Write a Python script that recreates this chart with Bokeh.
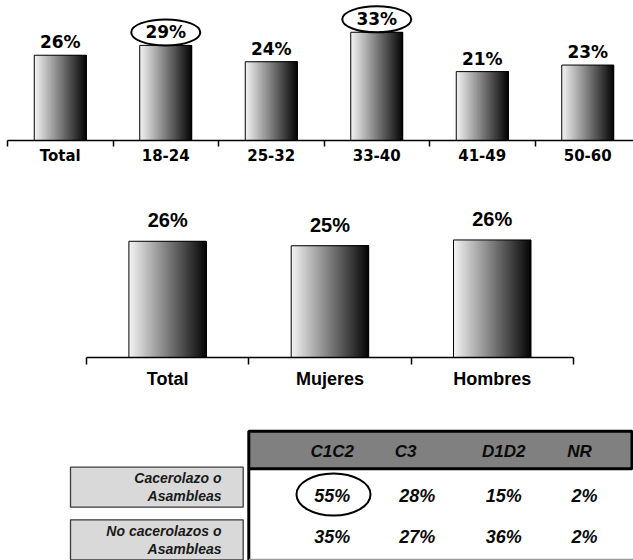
from bokeh.plotting import figure
from bokeh.models import Range1d, FixedTicker
from bokeh.layouts import column
from bokeh.embed import file_html
from bokeh.resources import INLINE
from bokeh.core.properties import value

# ---------------- data ----------------
age_groups = ["Total", "18-24", "25-32", "33-40", "41-49", "50-60"]
age_pct = [26, 29, 24, 33, 21, 23]
age_circled = ["18-24", "33-40"]

gender_groups = ["Total", "Mujeres", "Hombres"]
gender_pct = [26.0, 25.0, 26.3]

nse_cols = ["C1C2", "C3", "D1D2", "NR"]
row_labels = ["Cacerolazo o\nAsambleas", "No cacerolazos o\nAsambleas"]
row_cacerolazo = [55, 28, 15, 2]
row_no_cacerolazo = [35, 27, 36, 2]
table_circled = (0, "C1C2")

# ---------------- helpers ----------------
W = 633


def gradient_bars(p, xs, tops, width, n=40):
    # layered slices: each one runs from its own left edge to the bar's right edge
    for k in range(n):
        t = (k + 0.5) / n
        g = int(round(244 - 240 * t))
        color = "#%02x%02x%02x" % (g, g, g)
        left_off = -width / 2 + k * width / n
        sw = width / 2 - left_off
        p.vbar(x=[x + left_off + sw / 2 for x in xs], top=tops, bottom=0, width=sw,
               fill_color=color, line_color=None)
    p.vbar(x=xs, top=tops, bottom=0, width=width, fill_color=None,
           line_color="black", line_width=1)


def style_cat_axis(p, xs, labels, font, size, standoff, tick_len, bounds=None):
    ax = p.xaxis[0]
    ax.ticker = FixedTicker(ticks=xs, minor_ticks=[x - 0.5 for x in xs] + [xs[-1] + 0.5])
    ax.major_label_overrides = {x: lab for x, lab in zip(xs, labels)}
    ax.major_tick_out = 0
    ax.major_tick_in = 0
    ax.major_tick_line_color = None
    ax.minor_tick_out = tick_len
    ax.minor_tick_in = 0
    ax.minor_tick_line_color = "black"
    ax.minor_tick_line_width = 1.5
    ax.axis_line_color = "black"
    ax.axis_line_width = 1.5
    ax.major_label_text_font = font
    ax.major_label_text_font_style = "bold"
    ax.major_label_text_font_size = size
    ax.major_label_text_color = "black"
    ax.major_label_standoff = standoff
    if bounds is not None:
        ax.bounds = bounds


# ---------------- top chart: age ----------------
H1 = 170
base1 = 140
ppp1 = 3.28
cat_w1 = 105.5
xs1 = list(range(1, len(age_groups) + 1))
x01 = 0.5 - 7 / cat_w1

p1 = figure(width=W, height=H1, output_backend="svg", toolbar_location=None,
            x_range=Range1d(x01, x01 + W / cat_w1), y_range=Range1d(0, base1 / ppp1),
            y_axis_location=None, min_border_left=0, min_border_right=0,
            min_border_top=0, min_border_bottom=H1 - base1)
p1.outline_line_color = None
p1.xgrid.grid_line_color = None
p1.ygrid.grid_line_color = None

gradient_bars(p1, xs1, age_pct, 52 / cat_w1)
p1.text(x=xs1, y=age_pct, text=[f"{v}%" for v in age_pct], text_align="center",
        text_baseline="middle", y_offset=-13, text_font=value("DejaVu Sans"),
        text_font_style="bold", text_font_size="17px", text_color="black")
cx = [xs1[age_groups.index(c)] for c in age_circled]
cy = [age_pct[age_groups.index(c)] + 13 / ppp1 for c in age_circled]
p1.ellipse(x=cx, y=cy, width=69, height=26, width_units="screen", height_units="screen",
           fill_color=None, line_color="black", line_width=2)
style_cat_axis(p1, xs1, age_groups, "DejaVu Sans", "15px", 0, 6,
               bounds=(0.5, len(xs1) + 1.5))

# ---------------- middle chart: gender ----------------
H2 = 230
base2 = 187
ppp2 = 4.47
cat_w2 = 162.3
xs2 = list(range(1, len(gender_groups) + 1))
x02 = 0.5 - 86 / cat_w2

p2 = figure(width=W, height=H2, output_backend="svg", toolbar_location=None,
            x_range=Range1d(x02, x02 + W / cat_w2), y_range=Range1d(0, base2 / ppp2),
            y_axis_location=None, min_border_left=0, min_border_right=0,
            min_border_top=0, min_border_bottom=H2 - base2)
p2.outline_line_color = None
p2.xgrid.grid_line_color = None
p2.ygrid.grid_line_color = None

gradient_bars(p2, xs2, gender_pct, 77.5 / cat_w2)
p2.text(x=xs2, y=gender_pct, text=[f"{round(v)}%" for v in gender_pct], text_align="center",
        text_baseline="middle", y_offset=-21, text_font=value("Liberation Sans"),
        text_font_style="bold", text_font_size="20px", text_color="black")
style_cat_axis(p2, xs2, gender_groups, "Liberation Sans", "18px", 4, 7,
               bounds=(0.5, len(xs2) + 0.5))

# ---------------- table: NSE ----------------
H3 = 160
p3 = figure(width=W, height=H3, output_backend="svg", toolbar_location=None,
            x_range=Range1d(0, W), y_range=Range1d(H3, 0),
            x_axis_location=None, y_axis_location=None,
            min_border_left=0, min_border_right=0, min_border_top=0, min_border_bottom=0)
p3.outline_line_color = None
p3.xgrid.grid_line_color = None
p3.ygrid.grid_line_color = None

tbl_left, tbl_right = 248.3, 633
head_top, head_bot = 30.7, 68.3
body_bot = 159
col_x_head = [331.7, 405, 503.3, 579]
col_x_val = [331.7, 416.7, 503.3, 584]
row_y = [95, 136.7]
box_left, box_right = 70, 242.7
box_tops = [66.7, 119.3]
box_h = 40
text_right = 221

# header band
p3.quad(left=[tbl_left], right=[tbl_right - 1.5], top=[head_top], bottom=[head_bot],
        fill_color="#808080", line_color="black", line_width=3)
# body borders
p3.segment(x0=[tbl_left], y0=[head_bot], x1=[tbl_left], y1=[H3],
           line_color="black", line_width=3)
p3.segment(x0=[tbl_left], y0=[body_bot], x1=[W + 10], y1=[body_bot],
           line_color="#9a9a9a", line_width=1.5)
# header labels
p3.text(x=col_x_head, y=[(head_top + head_bot) / 2 + 1] * len(nse_cols), text=nse_cols,
        text_align="center", text_baseline="middle", text_font=value("Liberation Sans"),
        text_font_style="bold italic", text_font_size="17px", text_color="#0a0a0a")
# row label boxes
p3.quad(left=[box_left] * 2, right=[box_right] * 2, top=box_tops,
        bottom=[t + box_h for t in box_tops], fill_color="#d9d9d9",
        line_color="#3a3a3a", line_width=1.3)
lx, ly, lt = [], [], []
for t, lab in zip(box_tops, row_labels):
    lines = lab.split("\n")
    for i, ln in enumerate(lines):
        lx.append(text_right)
        ly.append(t + box_h / 2 + (i - (len(lines) - 1) / 2) * 17.5)
        lt.append(ln)
p3.text(x=lx, y=ly, text=lt, text_align="right", text_baseline="middle",
        text_font=value("Liberation Sans"), text_font_style="bold italic",
        text_font_size="14px", text_color="#1a1a1a")
# values
vx, vy, vt = [], [], []
for y, row in zip(row_y, [row_cacerolazo, row_no_cacerolazo]):
    for x, v in zip(col_x_val, row):
        vx.append(x)
        vy.append(y)
        vt.append(f"{v}%")
p3.text(x=vx, y=vy, text=vt, text_align="center", text_baseline="middle",
        text_font=value("Liberation Sans"), text_font_style="bold italic",
        text_font_size="18px", text_color="#0a0a0a")
ci = nse_cols.index(table_circled[1])
p3.ellipse(x=[col_x_val[ci] + 1.3], y=[row_y[table_circled[0]] - 1], width=74, height=42,
           width_units="screen", height_units="screen", fill_color=None,
           line_color="black", line_width=2)

layout = column(p1, p2, p3)
open("out.html", "w").write(file_html(layout, INLINE))
